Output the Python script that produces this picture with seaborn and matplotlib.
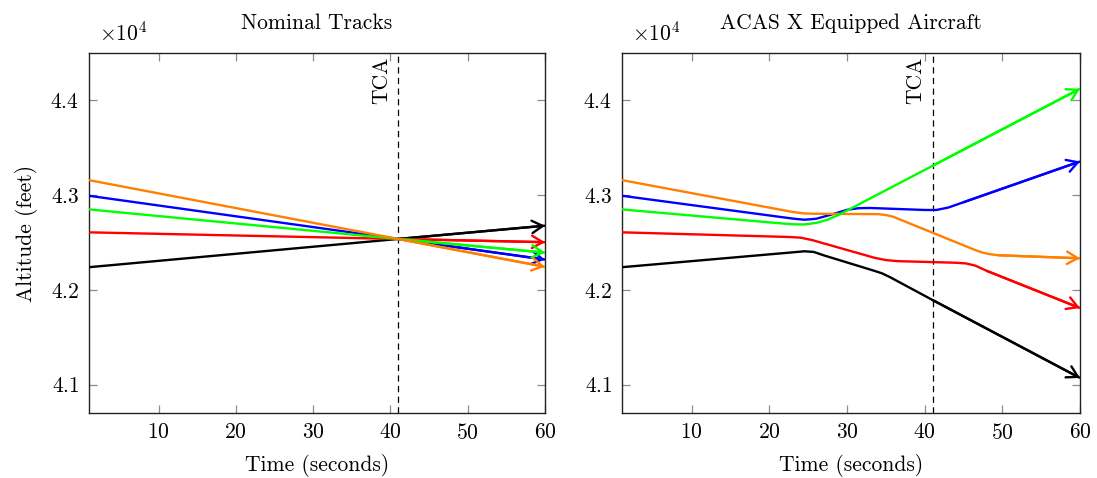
import matplotlib
matplotlib.use("Agg")
import matplotlib.pyplot as plt
import seaborn as sns
import pandas as pd

# ---- data -----------------------------------------------------------------
tca = 41
colors = {"black": "#000000", "red": "#ff0000", "green": "#00ff00",
          "blue": "#0000ff", "orange": "#ff8000"}

# Nominal tracks: straight lines through the closest point of approach
nominal_time = [1, 41, 60]
nominal_black = [42239, 42537, 42677]
nominal_red = [42607, 42537, 42503]
nominal_green = [42849, 42537, 42393]
nominal_blue = [42993, 42537, 42320]
nominal_orange = [43158, 42537, 42243]

# ACAS X equipped tracks
acas_black_t = [1, 23, 24.5, 25.7, 27, 33.5, 34.5, 35.5, 41, 60]
acas_black = [42239, 42396, 42407, 42400, 42364, 42201, 42174, 42135, 41893, 41070]
acas_red_t = [1, 22.5, 24, 25.5, 33.5, 35, 36.5, 44, 45.3, 46.5, 48, 60]
acas_red = [42607, 42558, 42551, 42525, 42339, 42314, 42303, 42286, 42279, 42256, 42200, 41808]
acas_green_t = [1, 21, 23, 24.5, 26, 27.5, 29, 41, 60]
acas_green = [42849, 42705, 42692, 42690, 42706, 42741, 42795, 43309, 44123]
acas_blue_t = [1, 23, 24.5, 26, 28, 30, 31.5, 33, 40, 41.5, 43, 45, 60]
acas_blue = [42993, 42752, 42740, 42750, 42795, 42845, 42862, 42864, 42843, 42843, 42868, 42925, 43355]
acas_orange_t = [1, 23, 24.5, 26, 34, 35, 36, 37, 41, 46.5, 47.5, 48.5, 49.5, 60]
acas_orange = [43158, 42822, 42806, 42803, 42799, 42790, 42770, 42736, 42603, 42420, 42392, 42375, 42365, 42333]

x_ticks = [10, 20, 30, 40, 50, 60]
y_ticks = [41000, 42000, 43000, 44000]
x_range = (1, 60)
y_range = (40700, 44500)


def frame(pairs):
    rows = []
    for name, (t, a) in pairs.items():
        for i, (ti, ai) in enumerate(zip(t, a)):
            rows.append({"aircraft": name, "time": ti, "alt": ai, "order": i})
    return pd.DataFrame(rows)


nominal_df = frame({
    "black": (nominal_time, nominal_black),
    "red": (nominal_time, nominal_red),
    "blue": (nominal_time, nominal_blue),
    "green": (nominal_time, nominal_green),
    "orange": (nominal_time, nominal_orange),
})
acas_df = frame({
    "black": (acas_black_t, acas_black),
    "red": (acas_red_t, acas_red),
    "blue": (acas_blue_t, acas_blue),
    "orange": (acas_orange_t, acas_orange),
    "green": (acas_green_t, acas_green),
})

# ---- style ----------------------------------------------------------------
sns.set_style("ticks")
FS = 15.5
plt.rcParams.update({
    "font.family": "serif",
    "font.serif": ["cmr10"],
    "mathtext.fontset": "cm",
    "axes.formatter.use_mathtext": True,
    "font.size": FS,
    "text.color": "black",
    "axes.labelcolor": "black",
    "xtick.color": "black",
    "ytick.color": "black",
    "axes.linewidth": 1.0,
    "axes.edgecolor": "#222222",
})

fig = plt.figure(figsize=(10.97, 4.78), dpi=100)
ax_l = fig.add_axes([89 / 1097, 1 - 413 / 478, 456 / 1097, 360 / 478])
ax_r = fig.add_axes([622 / 1097, 1 - 413 / 478, 458 / 1097, 360 / 478])

LW = 1.7


def draw(ax, df, title, ylabel):
    order = list(dict.fromkeys(df["aircraft"]))
    for name in order:
        sub = df[df["aircraft"] == name].sort_values("order")
        sns.lineplot(data=sub, x="time", y="alt", ax=ax, color=colors[name],
                     lw=LW, sort=False, estimator=None, legend=False,
                     solid_capstyle="butt", zorder=3)
        t = sub["time"].to_numpy()
        a = sub["alt"].to_numpy()
        # arrow tip on the last segment of each track
        ax.annotate("", xy=(t[-1], a[-1]), xytext=(t[-2], a[-2]),
                    arrowprops=dict(arrowstyle="->,head_length=0.55,head_width=0.32",
                                    color=colors[name], lw=LW, shrinkA=0, shrinkB=0,
                                    mutation_scale=14, joinstyle="miter"),
                    zorder=3, annotation_clip=False)
    ax.axvline(tca, color="black", lw=0.9, ls=(0, (5, 3.5)), zorder=2)
    ax.annotate("TCA", xy=(tca, y_range[1]), xytext=(-5, -3),
                textcoords="offset points", rotation=90, ha="right", va="top",
                fontsize=FS)
    ax.set_xlim(*x_range)
    ax.set_ylim(*y_range)
    ax.set_xticks(x_ticks)
    ax.set_yticks(y_ticks)
    ax.ticklabel_format(axis="y", style="sci", scilimits=(0, 0), useOffset=False)
    ax.tick_params(direction="in", length=6, width=0.9, color="#8c8c8c",
                   labelcolor="black", top=True, right=True, labelsize=FS, pad=7)
    for s in ax.spines.values():
        s.set_visible(True)
        s.set_linewidth(1.0)
    ax.set_xlabel("Time (seconds)", fontsize=FS, labelpad=8)
    ax.set_ylabel(ylabel, fontsize=FS, labelpad=9)
    ax.set_title(title, fontsize=FS, pad=17)


draw(ax_l, nominal_df, "Nominal Tracks", "Altitude (feet)")
draw(ax_r, acas_df, "ACAS X Equipped Aircraft", "")

# place the scale factor above the top-left corner of each panel
fig.canvas.draw()
for ax in (ax_l, ax_r):
    off = ax.yaxis.get_offset_text()
    txt = off.get_text()
    off.set_visible(False)
    ax.text(0.022, 1.036, txt, transform=ax.transAxes, ha="left", va="baseline",
            fontsize=FS)

fig.savefig("out.png", dpi=100)
